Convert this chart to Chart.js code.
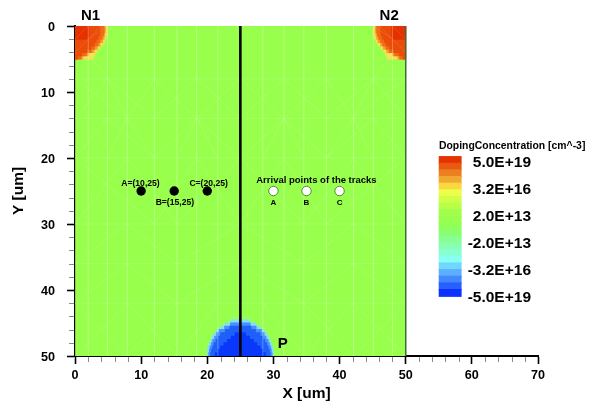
<!DOCTYPE html>
<html>
<head>
<meta charset="utf-8">
<style>html,body{margin:0;padding:0;background:#fff;overflow:hidden}canvas{display:block}</style>
<script src="https://cdn.jsdelivr.net/npm/chart.js@4"></script>
</head>
<body>
<canvas id="c" width="589" height="403"></canvas>
<script>
// ---- data (micrometres) ----
const xTicks = [0, 10, 20, 30, 40, 50, 60, 70];
const yTicks = [0, 10, 20, 30, 40, 50];
const xMinorTicks = [2,4,6,8,12,14,16,18,22,24,26,28,32,34,36,38,42,44,46,48,52,54,56,58,62,64,66,68];
const yMinorTicks = [2,4,6,8,12,14,16,18,22,24,26,28,32,34,36,38,42,44,46,48];

// half-micrometre rows of the n-type corner wells (depth y = 0.25 ... 4.75): lateral extent per level
const cornerRowsY = [0.25,0.75,1.25,1.75,2.25,2.75,3.25,3.75,4.25,4.75];
const cornerYellow = [4.85,4.85,4.85,4.7,4.5,4.2,3.7,3.3,3.0,2.8];
const cornerOrange = [4.6,4.6,4.5,4.4,4.2,3.8,3.4,2.9,2.0,1.2];
const cornerDeepOrange = [4.4,4.4,4.3,4.1,3.8,3.5,3.0,2.5,1.7,0.9];
const cornerRedOrange = [3.8,3.8,3.7,3.5,3.2,2.9,2.4,1.8,1.0,0.4];
const cornerRed = [2.1,2.1,2.1,2.1,0,0,0,0,0,0];

// half-micrometre rows of the p-type well: half width around x = 25 per level
const pRowsY = [44.75,45.25,45.75,46.25,46.75,47.25,47.75,48.25,48.75,49.25,49.75];
const pCentre = 25;
const pCyan = [1.4,2.3,3.0,3.6,4.0,4.3,4.5,4.7,4.9,5.0,5.0];
const pLightBlue = [0,1.5,2.4,3.2,3.6,3.9,4.2,4.4,4.6,4.7,4.8];
const pBlue = [0,0,1.6,2.3,3.0,3.4,3.7,4.0,4.2,4.4,4.5];
const pDeepBlue = [0,0,0,0,0.8,1.4,2.0,2.5,3.0,3.4,3.8];

const deviceXRange = [0, 50];
const deviceYMiddle = 25;
const centreLineX = [25, 25];
const centreLineY = [0, 50];
const impactX = [10, 15, 20];
const impactY = [25, 25, 25];
const arrivalX = [30, 35, 40];
const arrivalY = [25, 25, 25];

// faint mesh edges read from the left half of the device: x1,y1,x2,y2 (mirrored about x = 25)
const meshEdges = [
 [2,0,2,50],[4.9,0,4.9,50],[7.9,0,7.9,50],[12,0,12,50],[15.4,0,15.4,50],[18.4,0,18.4,50],[21.6,0,21.6,50],
 [0,8,25,8],[0,14,25,14],[0,20,25,20],[0,30,25,30],[0,36,25,36],[0,42,25,42],
 [0,14,4.9,8],[4.9,8,7.9,14],[7.9,14,12,8],[12,8,18.4,14],[18.4,14,25,8],
 [0,8,7.9,14],[4.9,8,12,14],[12,14,18.4,8],[18.4,8,25,14],
 [0,20,4.9,14],[4.9,14,12,20],[12,20,18.4,14],[18.4,14,25,20],
 [4.9,20,7.9,14],[7.9,14,12,20],[15.4,20,18.4,14],[18.4,14,21.6,20],
 [0,30,7.9,20],[7.9,20,15.4,30],[15.4,30,25,20],[0,20,12,30],[12,30,18.4,20],[18.4,20,25,30],
 [0,36,7.9,30],[7.9,30,15.4,36],[15.4,36,25,30],[0,42,7.9,36],[7.9,36,15.4,42],[15.4,42,25,36],
 [0,50,7.9,42],[7.9,42,15.4,50],[15.4,50,21.6,42],[0,42,7.9,50],[7.9,50,15.4,42],
 [0,4,4,0],[0,2,2,0],[2,4,4.9,8],[2,2,4.9,0]
];
const meshMirrorAxis = 25;

// colour scale, top to bottom
const legendLabels = ['5.0E+19','3.2E+16','2.0E+13','-2.0E+13','-3.2E+16','-5.0E+19'];
const legendColors = ['#e63200','#e95a10','#ec8020','#f0a830','#fcd840','#ecff48','#d0ff48','#b8ff48','#a0ff4c','#99ff4d','#90ff58',
 '#88ff70','#88ff90','#88ffb0','#88ffd0','#88fff0','#70d8ff','#5cb0ff','#4488ff','#2860ff','#0c30ff'];
const legendTitle = 'DopingConcentration [cm^-3]';
const xTitle = 'X [um]';
const yTitle = 'Y [um]';

// ---- layout and style ----
const BODY = '#99ff4d';
const FONT = '"Liberation Sans", Arial, sans-serif';
const ROW_PX = 3.7;
const LEGEND = {x0: 55.04, x1: 58.4, y0: 19.8, y1: 40.95};

function bars(points, color, order, thickness) {
  return {type:'bar', indexAxis:'y', grouped:false, data:points, backgroundColor:color, borderWidth:0,
          barThickness:thickness, order:order, parsing:true};
}
function cornerLeft(rows){ return rows.map((w,i)=>({y:cornerRowsY[i],x:[0,w]})).filter(p=>p.x[1]>0); }
function cornerRight(rows){ return rows.map((w,i)=>({y:cornerRowsY[i],x:[50-w,50]})).filter(p=>p.x[1]>p.x[0]); }
function pWell(rows){ return rows.map((w,i)=>({y:pRowsY[i],x:[pCentre-w,pCentre+w]})).filter(p=>p.x[1]>p.x[0]); }

const meshPts = [];
for (const e of meshEdges) {
  meshPts.push({x:e[0],y:e[1]},{x:e[2],y:e[3]},{x:NaN,y:NaN});
  meshPts.push({x:2*meshMirrorAxis-e[0],y:e[1]},{x:2*meshMirrorAxis-e[2],y:e[3]},{x:NaN,y:NaN});
}
const zip = (xs,ys)=>xs.map((x,i)=>({x,y:ys[i]}));

const datasets = [
  bars([{y:deviceYMiddle,x:deviceXRange}], BODY, 100, 331),
];
const cornerLevels = [[cornerYellow,'#f8e050'],[cornerOrange,'#f2a030'],[cornerDeepOrange,'#ee6a14'],[cornerRedOrange,'#eb4c08'],[cornerRed,'#e63000']];
cornerLevels.forEach(([rows,col],i)=>{
  datasets.push(bars(cornerLeft(rows),col,90-i,ROW_PX));
  datasets.push(bars(cornerRight(rows),col,90-i,ROW_PX));
});
[[pCyan,'#80e0fa'],[pLightBlue,'#4a8ffa'],[pBlue,'#2060fa'],[pDeepBlue,'#0a38fa']].forEach(([rows,col],i)=>{
  datasets.push(bars(pWell(rows),col,80-i,ROW_PX));
});
const bandH = (LEGEND.y1-LEGEND.y0)/legendColors.length;
datasets.push(bars(legendColors.map((c,i)=>({y:LEGEND.y0+bandH*(i+.5),x:[LEGEND.x0,LEGEND.x1]})), legendColors, 70, 7.2));
const line = (data,color,width,order)=>({type:'scatter',data,showLine:true,borderColor:color,borderWidth:width,pointRadius:0,spanGaps:false,order,fill:false,clip:false});
datasets.push(line(meshPts,'rgba(255,255,255,0.11)',1,60));
datasets.push(line(zip([50,50],[0,50]),'#3d6b3d',1,50));
datasets.push(line(zip(centreLineX,centreLineY),'#000',2.6,40));
datasets.push({type:'scatter',data:zip(impactX,impactY),pointRadius:4.7,pointBackgroundColor:'#000',pointBorderWidth:0,order:30,showLine:false});
datasets.push({type:'scatter',data:zip(arrivalX,arrivalY),pointRadius:4.7,pointBackgroundColor:'#fff',pointBorderColor:'#2a5a10',pointBorderWidth:.7,order:30,showLine:false});

const notes = [
  {t:'N1',x:2.35,y:-1.6,f:'bold 15px '+FONT},
  {t:'N2',x:47.5,y:-1.6,f:'bold 15px '+FONT},
  {t:'P',x:31.4,y:48.1,f:'bold 15px '+FONT},
  {t:'A=(10,25)',x:9.9,y:23.85,f:'bold 8.6px '+FONT},
  {t:'B=(15,25)',x:15.1,y:26.7,f:'bold 8.6px '+FONT},
  {t:'C=(20,25)',x:20.2,y:23.85,f:'bold 8.6px '+FONT},
  {t:'Arrival points of the tracks',x:36.5,y:23.4,f:'bold 9.5px '+FONT},
  {t:'A',x:30,y:26.8,f:'bold 8px '+FONT},
  {t:'B',x:35,y:26.8,f:'bold 8px '+FONT},
  {t:'C',x:40,y:26.8,f:'bold 8px '+FONT},
];

const decor = {
  id:'decor',
  afterDatasetsDraw(chart){
    const {ctx,scales:{x,y},chartArea:a} = chart;
    ctx.save();
    ctx.strokeStyle='#8a8a8a'; ctx.lineWidth=1;
    ctx.beginPath();
    xMinorTicks.forEach(v=>{const p=Math.round(x.getPixelForValue(v))+.5;ctx.moveTo(p,a.bottom+1);ctx.lineTo(p,a.bottom+6);});
    yMinorTicks.forEach(v=>{const p=Math.round(y.getPixelForValue(v))+.5;ctx.moveTo(a.left-1,p);ctx.lineTo(a.left-6,p);});
    ctx.stroke();
    ctx.fillStyle='#000'; ctx.textAlign='center'; ctx.textBaseline='middle';
    notes.forEach(n=>{ctx.font=n.f;ctx.fillText(n.t,x.getPixelForValue(n.x),y.getPixelForValue(n.y));});
    // colour-scale captions
    ctx.textAlign='left';
    ctx.font='bold 10.4px '+FONT;
    ctx.fillText(legendTitle,439,146);
    ctx.textAlign='right';
    ctx.font='bold 15.5px '+FONT;
    legendLabels.forEach((s,i)=>ctx.fillText(s,531,162.5+27*i));
    ctx.restore();
  }
};

new Chart(document.getElementById('c'),{
  type:'bar',
  data:{datasets},
  plugins:[decor],
  options:{
    responsive:false, animation:false, devicePixelRatio:1,
    events:[],
    layout:{padding:{left:0,top:26,right:51,bottom:0}},
    plugins:{legend:{display:false},tooltip:{enabled:false},title:{display:false}},
    scales:{
      x:{type:'linear',min:0,max:70,offset:false,
        afterBuildTicks(s){s.ticks=xTicks.map(value=>({value}));},
        afterFit(s){s.height=47;s.paddingLeft=0;s.paddingRight=0;},
        grid:{offset:false,drawOnChartArea:false,drawTicks:true,tickLength:8,tickColor:'#000',tickWidth:1.6},
        border:{color:'#000',width:2},
        ticks:{color:'#000',autoSkip:false,maxRotation:0,padding:4,font:{family:FONT,weight:'bold',size:12.6}},
        title:{display:true,text:xTitle,color:'#000',font:{family:FONT,weight:'bold',size:15.5},padding:{top:3,bottom:0}}
      },
      y:{type:'linear',reverse:true,min:0,max:50,offset:false,
        afterBuildTicks(s){s.ticks=yTicks.map(value=>({value}));},
        afterFit(s){s.width=75;s.paddingTop=0;s.paddingBottom=0;},
        grid:{offset:false,drawOnChartArea:false,drawTicks:true,tickLength:8,tickColor:'#000',tickWidth:1.6},
        border:{color:'#000',width:2},
        ticks:{color:'#000',autoSkip:false,padding:12,labelOffset:1.5,font:{family:FONT,weight:'bold',size:12.6}},
        title:{display:true,text:yTitle,color:'#000',font:{family:FONT,weight:'bold',size:15.5},padding:{top:9,bottom:0}}
      }
    }
  }
});
</script>
</body>
</html>
